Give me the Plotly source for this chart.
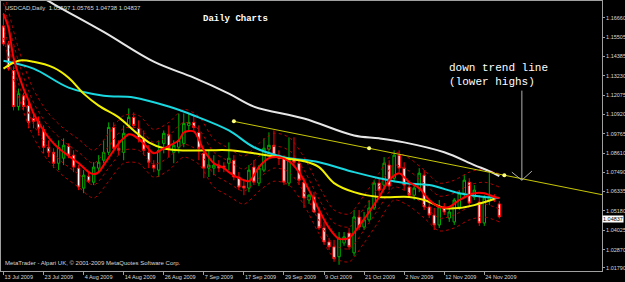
import pandas as pd
import plotly.graph_objects as go

# ---------------- data ----------------
dates = pd.bdate_range("2009-07-13", "2009-11-27")

opens = [1.1619,1.1512,1.1353,1.1139,1.1204,1.1145,1.1068,1.1051,1.1003,1.0897,
         1.0867,1.0802,1.0832,1.0903,1.0850,1.0773,1.0654,1.0725,1.0689,1.0773,
         1.0820,1.0867,1.1015,1.0891,1.0867,1.1027,1.1075,1.1010,1.0950,1.0867,
         1.0791,1.0761,1.0920,1.0974,1.0867,1.0897,1.0920,1.1027,1.1045,1.0985,
         1.0861,1.0773,1.0773,1.0791,1.0785,1.0802,1.0820,1.0720,1.0666,1.0654,
         1.0779,1.0684,1.0761,1.0885,1.0909,1.0850,1.0832,1.0684,1.0832,1.0802,
         1.0689,1.0583,1.0601,1.0506,1.0417,1.0334,1.0305,1.0246,1.0328,1.0387,
         1.0269,1.0482,1.0423,1.0465,1.0536,1.0684,1.0672,1.0791,1.0713,1.0850,
         1.0773,1.0660,1.0612,1.0654,1.0731,1.0542,1.0494,1.0435,1.0542,1.0476,
         1.0453,1.0542,1.0624,1.0689,1.0601,1.0571,1.0447,1.0583,1.0601,1.05597]
highs = [1.1696,1.1530,1.1377,1.1246,1.1222,1.1175,1.1104,1.1080,1.1027,1.0938,
         1.0891,1.0938,1.0950,1.0920,1.0879,1.0791,1.0761,1.0749,1.0808,1.0850,
         1.0938,1.1045,1.1045,1.0938,1.1027,1.1128,1.1104,1.1057,1.0997,1.0909,
         1.0820,1.0938,1.0997,1.1027,1.0938,1.1098,1.1098,1.1098,1.1086,1.1027,
         1.0879,1.0879,1.0850,1.0820,1.0808,1.0926,1.0850,1.0749,1.0701,1.0791,
         1.0820,1.0791,1.0950,1.0986,1.0997,1.0879,1.0850,1.0956,1.0956,1.0820,
         1.0713,1.0618,1.0630,1.0536,1.0453,1.0358,1.0346,1.0393,1.0393,1.0417,
         1.0524,1.0524,1.0512,1.0583,1.0701,1.0713,1.0838,1.0820,1.0879,1.0879,
         1.0808,1.0689,1.0684,1.0773,1.0761,1.0583,1.0536,1.0583,1.0565,1.0536,
         1.0595,1.0642,1.0731,1.0713,1.0672,1.0612,1.0612,1.0743,1.0618,1.05765]
lows = [1.1500,1.1353,1.1116,1.1116,1.1116,1.1010,1.1010,1.0967,1.0861,1.0838,
        1.0773,1.0761,1.0791,1.0832,1.0749,1.0642,1.0624,1.0684,1.0672,1.0749,
        1.0802,1.0850,1.0867,1.0850,1.0820,1.1010,1.1010,1.0926,1.0850,1.0773,
        1.0749,1.0720,1.0861,1.0838,1.0802,1.0861,1.0897,1.0997,1.0997,1.0820,
        1.0713,1.0720,1.0731,1.0749,1.0749,1.0761,1.0701,1.0642,1.0612,1.0630,
        1.0672,1.0666,1.0749,1.0867,1.0832,1.0791,1.0672,1.0666,1.0791,1.0672,
        1.0536,1.0560,1.0506,1.0405,1.0317,1.0287,1.0216,1.0198,1.0311,1.0287,
        1.0251,1.0405,1.0405,1.0453,1.0524,1.0612,1.0642,1.0642,1.0689,1.0749,
        1.0642,1.0595,1.0583,1.0630,1.0524,1.0476,1.0405,1.0417,1.0494,1.0453,
        1.0435,1.0524,1.0595,1.0547,1.0583,1.0429,1.0429,1.0553,1.0571,1.04738]
closes = [1.1512,1.1365,1.1139,1.1216,1.1139,1.1045,1.1051,1.1010,1.0897,1.0867,
          1.0802,1.0897,1.0909,1.0850,1.0779,1.0660,1.0731,1.0695,1.0779,1.0808,
          1.0867,1.1015,1.0891,1.0879,1.0980,1.1075,1.1027,1.0950,1.0879,1.0808,
          1.0773,1.0879,1.0980,1.0891,1.0909,1.0938,1.1039,1.1045,1.1015,1.0891,
          1.0773,1.0791,1.0791,1.0773,1.0779,1.0832,1.0720,1.0660,1.0654,1.0761,
          1.0689,1.0773,1.0891,1.0909,1.0850,1.0832,1.0689,1.0820,1.0808,1.0701,
          1.0595,1.0612,1.0512,1.0417,1.0334,1.0305,1.0234,1.0358,1.0364,1.0305,
          1.0482,1.0423,1.0465,1.0536,1.0684,1.0642,1.0802,1.0666,1.0850,1.0773,
          1.0672,1.0612,1.0654,1.0743,1.0542,1.0494,1.0435,1.0542,1.0512,1.0512,
          1.0583,1.0624,1.0701,1.0565,1.0642,1.0447,1.0595,1.0601,1.0583,1.04837]

# moving averages (vertices read at bar indices)
white_idx = [0, 10, 20, 30, 38, 45, 50, 60, 70, 75, 80, 88, 94, 97, 99]
white_val = [1.1921, 1.1749, 1.1583, 1.1406, 1.1311, 1.1216, 1.1139, 1.1068, 1.0967,
             1.0950, 1.0926, 1.0867, 1.0791, 1.0755, 1.0725]

cyan_idx = [0, 6, 13, 20, 26, 33, 38, 45, 50, 56, 63, 70, 75, 80, 85, 91, 96, 99]
cyan_val = [1.1412, 1.1365, 1.1252, 1.1204, 1.1193, 1.1139, 1.1086, 1.0997, 1.0897,
            1.0838, 1.0808, 1.0749, 1.0713, 1.0684, 1.0672, 1.0624, 1.0601, 1.0595]

yellow_idx = [0, 3, 6, 10, 13, 16, 19, 23, 26, 29, 32, 35, 41, 45, 50, 56, 60, 63,
              66, 70, 75, 81, 84, 88, 91, 94, 98]
yellow_val = [1.1365, 1.1412, 1.1406, 1.1371, 1.1311, 1.1216, 1.1145, 1.1075, 1.0997,
              1.0926, 1.0891, 1.0879, 1.0879, 1.0879, 1.0861, 1.0832, 1.0814, 1.0779,
              1.0684, 1.0630, 1.0601, 1.0601, 1.0583, 1.0536, 1.0536, 1.0553, 1.0589]

red_idx = [0, 1, 2, 4, 5, 6, 8, 10, 12, 15, 17, 18, 19, 20, 22, 23, 25, 26, 28, 30,
           32, 35, 36, 38, 40, 42, 44, 45, 47, 49, 50, 51, 53, 55, 57, 59, 61, 63,
           65, 67, 69, 71, 73, 75, 77, 79, 81, 83, 85, 87, 89, 91, 94, 96, 98, 99]
red_val = [1.1690, 1.1607, 1.1430, 1.1246, 1.1175, 1.1098, 1.0997, 1.0920, 1.0867,
           1.0802, 1.0749, 1.0737, 1.0749, 1.0791, 1.0879, 1.0920, 1.0974, 1.0967,
           1.0920, 1.0861, 1.0891, 1.0938, 1.0985, 1.0991, 1.0879, 1.0802, 1.0773,
           1.0749, 1.0713, 1.0695, 1.0731, 1.0779, 1.0832, 1.0838, 1.0814, 1.0749,
           1.0642, 1.0524, 1.0417, 1.0352, 1.0358, 1.0429, 1.0512, 1.0601, 1.0701,
           1.0743, 1.0689, 1.0654, 1.0583, 1.0542, 1.0542, 1.0583, 1.0624, 1.0624,
           1.0601, 1.0595]

band_idx = [0, 3, 6, 9, 12, 15, 18, 21, 24, 27, 30, 33, 36, 39, 42, 45, 48, 51, 54,
            57, 60, 63, 66, 69, 72, 75, 78, 81, 84, 87, 90, 93, 96, 99]
band_upper_outer = [1.1832, 1.1483, 1.1240, 1.1098, 1.1009, 1.0944, 1.0879, 1.0980,
                    1.1086, 1.1086, 1.1003, 1.1045, 1.1122, 1.1080, 1.0944, 1.0891,
                    1.0844, 1.0920, 1.0980, 1.0956, 1.0838, 1.0666, 1.0524, 1.0500,
                    1.0612, 1.0743, 1.0867, 1.0832, 1.0761, 1.0684, 1.0701, 1.0749,
                    1.0767, 1.0737]
band_upper_inner = [1.1755, 1.1406, 1.1163, 1.1021, 1.0932, 1.0867, 1.0802, 1.0903,
                    1.1009, 1.1009, 1.0926, 1.0967, 1.1045, 1.1003, 1.0867, 1.0814,
                    1.0767, 1.0844, 1.0903, 1.0879, 1.0761, 1.0589, 1.0447, 1.0423,
                    1.0536, 1.0666, 1.0791, 1.0755, 1.0684, 1.0607, 1.0624, 1.0672,
                    1.0689, 1.0660]
band_lower_inner = [1.1625, 1.1276, 1.1033, 1.0891, 1.0802, 1.0737, 1.0672, 1.0773,
                    1.0879, 1.0879, 1.0796, 1.0838, 1.0914, 1.0873, 1.0737, 1.0684,
                    1.0636, 1.0713, 1.0773, 1.0749, 1.0630, 1.0459, 1.0317, 1.0293,
                    1.0405, 1.0536, 1.0660, 1.0624, 1.0553, 1.0476, 1.0494, 1.0542,
                    1.0559, 1.0530]
band_lower_outer = [1.1548, 1.1199, 1.0956, 1.0814, 1.0725, 1.0660, 1.0595, 1.0695,
                    1.0802, 1.0802, 1.0719, 1.0761, 1.0838, 1.0796, 1.0660, 1.0607,
                    1.0559, 1.0636, 1.0695, 1.0672, 1.0553, 1.0382, 1.0240, 1.0216,
                    1.0328, 1.0459, 1.0583, 1.0547, 1.0476, 1.0400, 1.0417, 1.0465,
                    1.0482, 1.0453]

trend_x = [46, 120]
trend_y = [1.1051, 1.0612]
trend_dot_x = [46, 73, 100]
trend_dot_y = [1.1051, 1.0891, 1.0731]

price_ticks = [1.16660, 1.15505, 1.14385, 1.13230, 1.12075, 1.10920, 1.09765,
               1.08610, 1.07490, 1.06335, 1.05180, 1.04025, 1.02870, 1.01790]
date_tick_labels = ["13 Jul 2009", "23 Jul 2009", "4 Aug 2009", "14 Aug 2009",
                    "26 Aug 2009", "7 Sep 2009", "17 Sep 2009", "29 Sep 2009",
                    "9 Oct 2009", "21 Oct 2009", "2 Nov 2009", "12 Nov 2009",
                    "24 Nov 2009"]
last_price = 1.04837

# ---------------- figure ----------------
x = list(range(len(opens)))
date_pos = {d.strftime("%-d %b %Y"): i for i, d in enumerate(dates)}
tick_x = [date_pos[t] for t in date_tick_labels]

fig = go.Figure()

band_color = "#b00000"
for arr in (band_upper_outer, band_upper_inner, band_lower_inner, band_lower_outer):
    fig.add_trace(go.Scatter(x=band_idx, y=arr, mode="lines",
                             line=dict(color=band_color, width=1, dash="dot", shape="spline",
                                       smoothing=0.8),
                             hoverinfo="skip"))

fig.add_trace(go.Scatter(x=white_idx, y=white_val, mode="lines",
                         line=dict(color="#e6e6e6", width=2, shape="spline"), hoverinfo="skip"))

fig.add_trace(go.Candlestick(
    x=x, open=opens, high=highs, low=lows, close=closes,
    increasing=dict(line=dict(color="#00b000", width=1), fillcolor="black"),
    decreasing=dict(line=dict(color="#ff0000", width=1), fillcolor="white"),
    whiskerwidth=0, hoverinfo="skip"))

fig.add_trace(go.Scatter(x=cyan_idx, y=cyan_val, mode="lines",
                         line=dict(color="#19d8e0", width=2, shape="spline"), hoverinfo="skip"))
fig.add_trace(go.Scatter(x=yellow_idx, y=yellow_val, mode="lines",
                         line=dict(color="#f2f200", width=2, shape="spline"), hoverinfo="skip"))
fig.add_trace(go.Scatter(x=red_idx, y=red_val, mode="lines",
                         line=dict(color="#ff0000", width=2, shape="spline", smoothing=0.8),
                         hoverinfo="skip"))

fig.add_trace(go.Scatter(x=trend_x, y=trend_y, mode="lines",
                         line=dict(color="#c8c800", width=1), hoverinfo="skip"))
fig.add_trace(go.Scatter(x=trend_dot_x, y=trend_dot_y, mode="markers",
                         marker=dict(color="#ffff80", size=4), hoverinfo="skip"))

small_font = dict(family="Liberation Sans, Arial, sans-serif", size=5.5, color="#d8d8d8")
text_font = dict(family="Liberation Sans, Arial, sans-serif", size=6, color="#d8d8d8")
mono = "Liberation Mono, Courier New, monospace"

fig.update_layout(
    width=625, height=282,
    margin=dict(l=1, r=23, t=1, b=11, autoexpand=False),
    paper_bgcolor="black", plot_bgcolor="black",
    showlegend=False,
    xaxis=dict(range=[-0.5, 119.5], rangeslider=dict(visible=False),
               showgrid=False, zeroline=False, automargin=False,
               showline=True, linecolor="#a0a0a0", linewidth=1, mirror=True,
               tickmode="array", tickvals=tick_x, ticktext=date_tick_labels,
               ticks="outside", ticklen=3, tickcolor="#a0a0a0", tickangle=0,
               ticklabelposition="outside right", tickfont=small_font),
    yaxis=dict(range=[1.0161, 1.1767], side="right",
               showgrid=False, zeroline=False, automargin=False,
               showline=True, linecolor="#a0a0a0", linewidth=1, mirror=True,
               tickmode="array", tickvals=price_ticks,
               ticktext=[f"{v:.5f}" for v in price_ticks],
               ticks="outside", ticklen=2, tickcolor="#a0a0a0",
               tickfont=small_font),
)

fig.add_annotation(xref="paper", yref="paper", x=0.004, y=0.975, xanchor="left",
                   yanchor="middle", showarrow=False,
                   text="USDCAD,Daily  1.05597 1.05765 1.04738 1.04837", font=text_font)
fig.add_annotation(xref="paper", yref="paper", x=0.003, y=0.03, xanchor="left",
                   yanchor="middle", showarrow=False,
                   text="MetaTrader - Alpari UK, © 2001-2009 MetaQuotes Software Corp.",
                   font=text_font)
fig.add_annotation(xref="paper", yref="paper", x=0.39, y=0.935, xanchor="center",
                   yanchor="middle", showarrow=False, text="<b>Daily Charts</b>",
                   font=dict(family=mono, size=9, color="white"))
fig.add_annotation(xref="paper", yref="paper", x=0.742, y=0.725, xanchor="left",
                   yanchor="middle", showarrow=False, align="left",
                   text="down trend line<br>(lower highs)",
                   font=dict(family=mono, size=11, color="white"))
fig.add_annotation(xref="paper", yref="y", x=1.0, y=last_price, xanchor="left",
                   yanchor="middle", yshift=-2, showarrow=False, text=f"{last_price:.5f}",
                   bgcolor="white", font=dict(family="Liberation Sans, Arial", size=5.5, color="black"),
                   borderpad=0)

# arrow pointing at the trend line (shaft + open head)
arrow_col = "#b0b0b0"
fig.add_shape(type="line", xref="x", yref="y", x0=103.5, x1=103.5, y0=1.1234, y1=1.0701,
              line=dict(color=arrow_col, width=1))
fig.add_shape(type="line", xref="x", yref="y", x0=101.5, x1=103.5, y0=1.0749, y1=1.0701,
              line=dict(color=arrow_col, width=1))
fig.add_shape(type="line", xref="x", yref="y", x0=105.5, x1=103.5, y0=1.0755, y1=1.0701,
              line=dict(color=arrow_col, width=1))

fig.write_html("out.html")
